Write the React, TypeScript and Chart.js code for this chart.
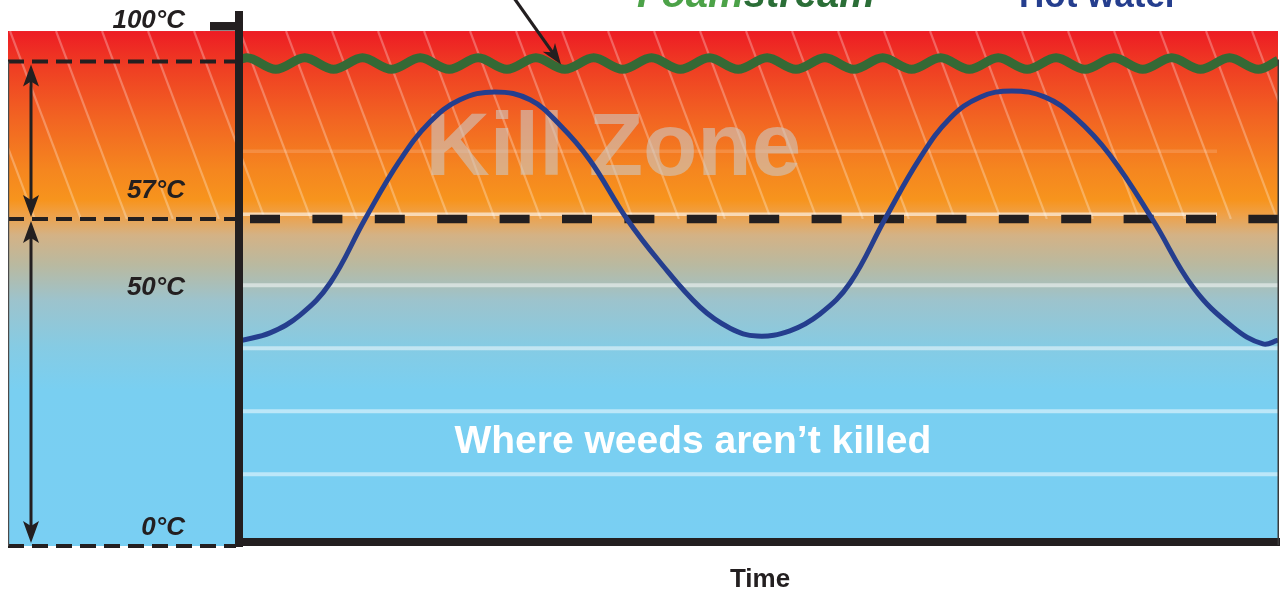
import React, { useEffect, useRef } from 'react';
import { Chart, registerables } from 'chart.js';

Chart.register(...registerables);

// ---- data (diagram units: time 0..timeMax, temperature scale 0..100) ----
const timeMax = 35.85;
const hotWaterTimes = [0, 0.97, 2.01, 3.05, 4.26, 5.47, 6.51, 7.54, 8.75, 9.97, 11.0, 12.04, 13.32, 14.46, 15.85, 16.89, 17.82, 18.96, 20.0, 21.04, 22.25, 23.46, 24.5, 25.54, 26.64, 27.79, 28.82, 30.03, 31.52, 32.91, 34.29, 35.33, 35.85];
const hotWaterTemps = [39.0, 40.4, 43.8, 49.9, 62.1, 73.3, 80.6, 84.8, 86.3, 84.8, 80.0, 73.3, 62.1, 53.9, 45.3, 41.3, 39.8, 40.8, 44.0, 49.9, 62.1, 73.7, 81.3, 85.3, 86.5, 85.3, 81.5, 74.3, 61.9, 49.1, 41.5, 38.3, 39.0];
const foamTimes = [0, 0.17, 1.17, 2.17, 3.17, 4.17, 5.17, 6.17, 7.17, 8.17, 9.17, 10.17, 11.17, 12.17, 13.17, 14.17, 15.17, 16.17, 17.17, 18.17, 19.17, 20.17, 21.17, 22.17, 23.17, 24.17, 25.17, 26.17, 27.17, 28.17, 29.17, 30.17, 31.17, 32.17, 33.17, 34.17, 35.17, 35.85];
const foamTemps = [92.6, 92.8, 90.6, 92.8, 90.6, 92.8, 90.6, 92.8, 90.6, 92.8, 90.6, 92.8, 90.6, 92.8, 90.6, 92.8, 90.6, 92.8, 90.6, 92.8, 90.6, 92.8, 90.6, 92.8, 90.6, 92.8, 90.6, 92.8, 90.6, 92.8, 90.6, 92.8, 90.6, 92.8, 90.6, 92.8, 90.6, 92.3];
const seriesNames = ['Foamstream', 'Hot water'];
const gridLevels = [75, 63, 49.5, 37.5, 25.5, 13.5];
const killLevel = 62.1;   // 57°C threshold
const foamLevel = 92.1;   // Foamstream level
const zeroLevel = 0;
const bandTop = 97.9;
const tempLabels = ['100°C', '57°C', '50°C', '0°C'];
const tempLabelLevels = [100, 67.6, 49.1, 3.4];
const zoneLabels = ['Kill Zone', 'Where weeds aren\u2019t killed'];
const axisTitle = 'Time';

const FONT = '"Liberation Sans", Arial, Helvetica, sans-serif';
const INK = '#231F20';

function arrowHead(ctx: CanvasRenderingContext2D, x: number, y: number, dir: number) {
  ctx.beginPath();
  ctx.moveTo(x, y);
  ctx.lineTo(x - 8, y - dir * 22);
  ctx.lineTo(x, y - dir * 17);
  ctx.lineTo(x + 8, y - dir * 22);
  ctx.closePath();
  ctx.fill();
}

const decor = {
  id: 'decor',
  beforeDatasetsDraw(chart: any) {
    const { ctx, chartArea: a, scales } = chart;
    const xs = scales.x;
    const ys = scales.y;
    const L = 8;
    const R = a.right;
    const top = ys.getPixelForValue(bandTop);
    const bottom = ys.getPixelForValue(zeroLevel) + 1;
    const kill = ys.getPixelForValue(killLevel);
    const foam = ys.getPixelForValue(foamLevel);
    const h = bottom - top;
    ctx.save();
    const g = ctx.createLinearGradient(0, top, 0, bottom);
    const stop = (yy: number, c: string) => g.addColorStop(Math.min(1, Math.max(0, (yy - top) / h)), c);
    stop(top, '#ED1C24');
    stop(top + 39, '#EF4023');
    stop(top + 89, '#F26522');
    stop(top + 139, '#F5861F');
    stop(kill - 19, '#F7941D');
    stop(kill - 5, '#F0A045');
    stop(kill + 16, '#D4B285');
    stop(kill + 46, '#B9B9A0');
    stop(kill + 81, '#9DC3CC');
    stop(kill + 126, '#86CBE3');
    stop(kill + 171, '#79CFF1');
    stop(bottom, '#79CFF3');
    ctx.fillStyle = g;
    ctx.fillRect(L, top, R - L, h);

    // hatch in the kill zone
    ctx.save();
    ctx.beginPath();
    ctx.rect(L, top, R - L, kill - top);
    ctx.clip();
    ctx.strokeStyle = 'rgba(255,255,255,0.28)';
    ctx.lineWidth = 2.2;
    const slope = 0.377;
    for (let sx = L + 2 - 46 * 3; sx < R + 10; sx += 46) {
      ctx.beginPath();
      ctx.moveTo(sx, top);
      ctx.lineTo(sx + slope * (kill - top), kill);
      ctx.stroke();
    }
    ctx.restore();

    // grid lines
    gridLevels.forEach((v) => {
      const yy = ys.getPixelForValue(v);
      const hot = v > killLevel;
      ctx.strokeStyle = v > 70 ? 'rgba(255,255,255,0.15)' : hot ? 'rgba(255,255,255,0.6)' : 'rgba(255,255,255,0.5)';
      ctx.lineWidth = hot ? 3.5 : 4;
      ctx.beginPath();
      ctx.moveTo(a.left, yy);
      ctx.lineTo(hot ? R - 61 : R, yy);
      ctx.stroke();
    });

    // zone labels
    ctx.textAlign = 'center';
    ctx.textBaseline = 'alphabetic';
    ctx.font = `bold 89px ${FONT}`;
    ctx.fillStyle = 'rgba(205,200,195,0.6)';
    ctx.fillText(zoneLabels[0], xs.getPixelForValue(12.85), ys.getPixelForValue(70.5));
    ctx.font = `bold 39px ${FONT}`;
    ctx.fillStyle = '#FFFFFF';
    ctx.fillText(zoneLabels[1], xs.getPixelForValue(15.6), ys.getPixelForValue(17.5));

    // left panel dashed reference lines
    ctx.strokeStyle = INK;
    ctx.lineWidth = 4;
    ctx.setLineDash([16, 8]);
    [foam, kill, bottom].forEach((yy) => {
      ctx.beginPath();
      ctx.moveTo(L, yy);
      ctx.lineTo(a.left - 6, yy);
      ctx.stroke();
    });
    // main 57°C dashed line
    ctx.lineWidth = 8.5;
    ctx.setLineDash([30, 32.4]);
    ctx.beginPath();
    ctx.moveTo(a.left + 8, kill);
    ctx.lineTo(R + 4, kill);
    ctx.stroke();
    ctx.setLineDash([]);

    ctx.fillStyle = '#4a4a4a';
    ctx.fillRect(L, foam, 1.2, bottom - foam);

    // left double arrows
    const ax = 31;
    ctx.fillStyle = INK;
    ctx.strokeStyle = INK;
    ctx.lineWidth = 3;
    ctx.beginPath();
    ctx.moveTo(ax, foam + 12);
    ctx.lineTo(ax, kill - 12);
    ctx.moveTo(ax, kill + 12);
    ctx.lineTo(ax, bottom - 12);
    ctx.stroke();
    arrowHead(ctx, ax, foam + 3, -1);
    arrowHead(ctx, ax, kill - 2, 1);
    arrowHead(ctx, ax, kill + 2, -1);
    arrowHead(ctx, ax, bottom - 3, 1);

    // temperature labels
    ctx.font = `italic bold 26px ${FONT}`;
    ctx.textAlign = 'right';
    ctx.textBaseline = 'middle';
    ctx.fillStyle = INK;
    tempLabels.forEach((t, i) => {
      ctx.fillText(t, a.left - 57, ys.getPixelForValue(tempLabelLevels[i]) + 1);
    });
    ctx.restore();
  },
  afterDatasetsDraw(chart: any) {
    const { ctx, chartArea: a, scales } = chart;
    const ys = scales.y;
    const bottom = ys.getPixelForValue(zeroLevel);
    const top = ys.getPixelForValue(bandTop);
    const foam = ys.getPixelForValue(foamLevel);
    ctx.save();
    ctx.fillStyle = INK;
    ctx.fillRect(a.left - 7, 11, 8, bottom + 2 - 11);
    ctx.fillRect(a.left - 32, top - 9, 32, 8.5);
    ctx.fillRect(a.left - 7, bottom - 7, chart.width - (a.left - 7), 8);
    ctx.fillStyle = '#3a3a3a';
    ctx.fillRect(a.right - 0.5, foam - 2, 1.5, bottom - foam + 2);

    // pointer arrow to Foamstream line
    ctx.fillStyle = INK;
    ctx.strokeStyle = INK;
    ctx.lineWidth = 3.2;
    const tipX = 561, tipY = foam + 3;
    const tailX = 514, tailY = -2;
    const ang = Math.atan2(tipY - tailY, tipX - tailX);
    ctx.beginPath();
    ctx.moveTo(tailX, tailY);
    ctx.lineTo(tipX - Math.cos(ang) * 12, tipY - Math.sin(ang) * 12);
    ctx.stroke();
    ctx.beginPath();
    ctx.moveTo(tipX, tipY);
    ctx.lineTo(tipX - Math.cos(ang) * 21 - Math.sin(ang) * 7.5, tipY - Math.sin(ang) * 21 + Math.cos(ang) * 7.5);
    ctx.lineTo(tipX - Math.cos(ang) * 15, tipY - Math.sin(ang) * 15);
    ctx.lineTo(tipX - Math.cos(ang) * 21 + Math.sin(ang) * 7.5, tipY - Math.sin(ang) * 21 - Math.cos(ang) * 7.5);
    ctx.closePath();
    ctx.fill();

    // series titles (cut off at the top of the picture)
    ctx.textAlign = 'left';
    ctx.textBaseline = 'alphabetic';
    ctx.font = `italic bold 40px ${FONT}`;
    const foamName = seriesNames[0];
    ctx.fillStyle = '#4CA248';
    ctx.fillText(foamName.slice(0, 4), 637, 7);
    const w = ctx.measureText(foamName.slice(0, 4)).width;
    ctx.fillStyle = '#2B6E37';
    ctx.fillText(foamName.slice(4), 637 + w, 7);
    ctx.font = `bold 35px ${FONT}`;
    ctx.fillStyle = '#253E8E';
    ctx.fillText(seriesNames[1], 1019, 7);

    ctx.textAlign = 'center';
    ctx.font = `bold 26px ${FONT}`;
    ctx.fillStyle = INK;
    ctx.fillText(axisTitle, (a.left + a.right) / 2, 587);
    ctx.restore();
  },
};

export default function App() {
  const ref = useRef<HTMLCanvasElement>(null);
  useEffect(() => {
    if (!ref.current) return;
    const chart = new Chart(ref.current, {
      type: 'line',
      data: {
        datasets: [
          {
            label: seriesNames[0],
            data: foamTimes.map((t, i) => ({ x: t, y: foamTemps[i] })),
            borderColor: '#356935',
            borderWidth: 9,
            pointRadius: 0,
            cubicInterpolationMode: 'monotone',
            fill: false,
          },
          {
            label: seriesNames[1],
            data: hotWaterTimes.map((t, i) => ({ x: t, y: hotWaterTemps[i] })),
            borderColor: '#253E8E',
            borderWidth: 5,
            pointRadius: 0,
            tension: 0.4,
            fill: false,
          },
        ],
      },
      options: {
        responsive: false,
        maintainAspectRatio: false,
        animation: false,
        devicePixelRatio: 1,
        events: [],
        layout: { padding: { left: 242, right: 2, top: 20, bottom: 46 } },
        plugins: { legend: { display: false }, tooltip: { enabled: false }, title: { display: false } },
        scales: {
          x: { type: 'linear', min: 0, max: timeMax, display: false },
          y: { type: 'linear', min: 0, max: 100, display: false },
        },
      },
      plugins: [decor],
    } as any);
    return () => chart.destroy();
  }, []);
  return (
    <div style={{ position: 'absolute', left: 0, top: 0, width: 1280, height: 591, background: '#fff' }}>
      <canvas ref={ref} width={1280} height={591} style={{ display: 'block', width: 1280, height: 591 }} />
    </div>
  );
}
